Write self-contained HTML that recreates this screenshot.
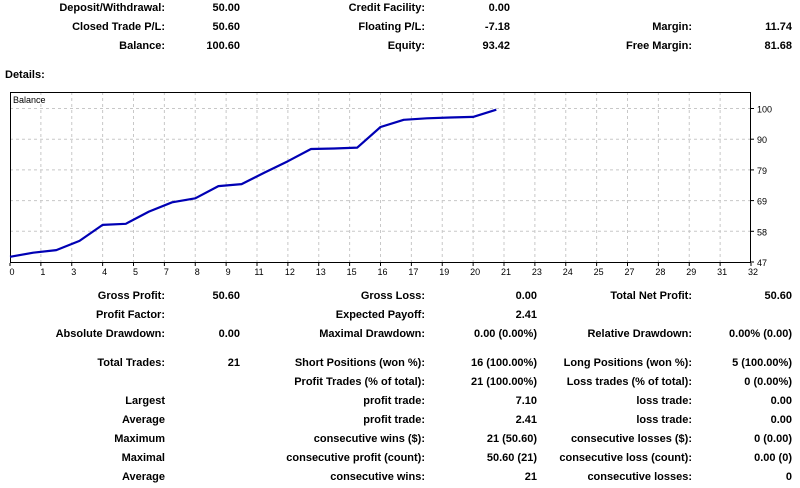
<!DOCTYPE html>
<html><head><meta charset="utf-8">
<style>
body{margin:0;width:800px;height:488px;background:#fff;position:relative;overflow:hidden;font-family:"Liberation Sans",sans-serif;}
.t{position:absolute;font-size:11px;font-weight:bold;color:#000;white-space:nowrap;line-height:13px;}
.r{transform:translateX(-100%);}
svg{position:absolute;left:0;top:0;}
</style></head>
<body>
<div id="txt"></div>
<svg id="chart" width="800" height="488"></svg>
<script>
const tradeIdx=[0,1,2,3,4,5,6,7,8,9,10,11,12,13,14,15,16,17,18,19,20,21];
const balance=[48.8,50.2,51.1,54.3,59.8,60.2,64.4,67.6,69.0,73.2,73.9,77.9,81.8,86.0,86.2,86.5,93.6,96.1,96.6,96.9,97.1,99.6];
const xTickLabels=["0","1","3","4","5","7","8","9","11","12","13","15","16","17","19","20","21","23","24","25","27","28","29","31","32"];
const yTickLabels=["47","58","69","79","90","100"];

const rows=[
[165,8,"Deposit/Withdrawal:"],[240,8,"50.00"],[425,8,"Credit Facility:"],[510,8,"0.00"],
[165,27,"Closed Trade P/L:"],[240,27,"50.60"],[425,27,"Floating P/L:"],[510,27,"-7.18"],[692,27,"Margin:"],[792,27,"11.74"],
[165,46,"Balance:"],[240,46,"100.60"],[425,46,"Equity:"],[510,46,"93.42"],[692,46,"Free Margin:"],[792,46,"81.68"],
[165,296,"Gross Profit:"],[240,296,"50.60"],[425,296,"Gross Loss:"],[537,296,"0.00"],[692,296,"Total Net Profit:"],[792,296,"50.60"],
[165,315,"Profit Factor:"],[425,315,"Expected Payoff:"],[537,315,"2.41"],
[165,334,"Absolute Drawdown:"],[240,334,"0.00"],[425,334,"Maximal Drawdown:"],[537,334,"0.00 (0.00%)"],[692,334,"Relative Drawdown:"],[792,334,"0.00% (0.00)"],
[165,363,"Total Trades:"],[240,363,"21"],[425,363,"Short Positions (won %):"],[537,363,"16 (100.00%)"],[692,363,"Long Positions (won %):"],[792,363,"5 (100.00%)"],
[425,382,"Profit Trades (% of total):"],[537,382,"21 (100.00%)"],[692,382,"Loss trades (% of total):"],[792,382,"0 (0.00%)"],
[165,401,"Largest"],[425,401,"profit trade:"],[537,401,"7.10"],[692,401,"loss trade:"],[792,401,"0.00"],
[165,420,"Average"],[425,420,"profit trade:"],[537,420,"2.41"],[692,420,"loss trade:"],[792,420,"0.00"],
[165,439,"Maximum"],[425,439,"consecutive wins ($):"],[537,439,"21 (50.60)"],[692,439,"consecutive losses ($):"],[792,439,"0 (0.00)"],
[165,458,"Maximal"],[425,458,"consecutive profit (count):"],[537,458,"50.60 (21)"],[692,458,"consecutive loss (count):"],[792,458,"0.00 (0)"],
[165,477,"Average"],[425,477,"consecutive wins:"],[537,477,"21"],[692,477,"consecutive losses:"],[792,477,"0"]
];
const txt=document.getElementById('txt');
rows.forEach(r=>{
  const s=document.createElement('span');
  s.className='t r';
  s.style.left=r[0]+'px';s.style.top=(r[1]-6)+'px';
  s.textContent=r[2];
  
  
  txt.appendChild(s);
});
const d=document.createElement('span');
d.className='t';d.style.left='5px';d.style.top='69px';d.textContent='Details:';


txt.appendChild(d);

const NS='http://www.w3.org/2000/svg';
const svg=document.getElementById('chart');
const L=10,R=751,T=92,B=263;
const xMax=32,yMin=47,yBot=262,yPer=30.7/10.6;
const X=v=>L+(R-L)*v/xMax;
const Y=v=>yBot-(v-yMin)*yPer;
function el(tag,attrs){const e=document.createElementNS(NS,tag);for(const k in attrs)e.setAttribute(k,attrs[k]);svg.appendChild(e);return e;}
const nx=xTickLabels.length-1;
xTickLabels.forEach((lab,i)=>{
  const x=L+(R-L)*i/nx;
  if(i>0&&i<nx){const g=el('line',{x1:x,y1:T,x2:x,y2:B,stroke:'#c8c8c8','stroke-dasharray':'3,3'});
  
  }
  el('line',{x1:x,y1:B,x2:x,y2:B+3,stroke:'#000'});
  const t=el('text',{x:x+2,y:B+12,'font-size':9,'text-anchor':'middle','font-family':'Liberation Sans, sans-serif'});
  t.textContent=lab;
  
  
});
yTickLabels.forEach((lab,i)=>{
  const y=yBot-30.7*i;
  if(i>0){const g=el('line',{x1:L,y1:y,x2:R,y2:y,stroke:'#c8c8c8','stroke-dasharray':'3,3'});
  
  }
  el('line',{x1:R,y1:y,x2:R+3,y2:y,stroke:'#000'});
  const t=el('text',{x:R+6,y:y+4,'font-size':9,'font-family':'Liberation Sans, sans-serif'});
  t.textContent=lab;
  
  
});
const box=el('rect',{x:L+0.5,y:T+0.5,width:R-L-1,height:B-T-1,fill:'none',stroke:'#000'});


const bt=el('text',{x:L+3,y:T+11,'font-size':9,'font-family':'Liberation Sans, sans-serif'});
bt.textContent='Balance';


const pts=tradeIdx.map((v,i)=>X(v).toFixed(1)+','+Y(balance[i]).toFixed(1)).join(' ');
const line=el('polyline',{points:pts,fill:'none',stroke:'#0000b4','stroke-width':2.2,'stroke-linejoin':'round'});


</script>
</body></html>
